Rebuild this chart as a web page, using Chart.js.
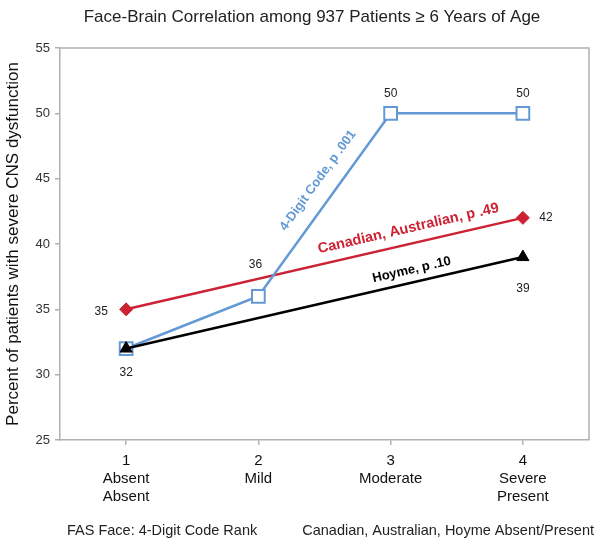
<!DOCTYPE html>
<html>
<head>
<meta charset="utf-8">
<script src="https://cdn.jsdelivr.net/npm/chart.js@4"></script>
<style>
  html, body { margin: 0; padding: 0; background: #fff; }
  #wrap { width: 600px; height: 548px; }
</style>
</head>
<body>
<div id="wrap"><canvas id="myChart"></canvas></div>
<script>
const xLabels = [["1", "Absent", "Absent"], ["2", "Mild"], ["3", "Moderate"], ["4", "Severe", "Present"]];
const digitCode = [32, 36, 50, 50];
const canadian = [35, null, null, 42];
const hoyme = [32, null, null, 39];
const yTicks = [25, 30, 35, 40, 45, 50, 55];

const titleText = "Face-Brain Correlation among 937 Patients \u2265 6 Years of Age";
const yTitle = "Percent of patients with severe CNS dysfunction";
const bottomLeft = "FAS Face: 4-Digit Code Rank";
const bottomRight = "Canadian, Australian, Hoyme Absent/Present";

const BLUE = "#6399d4";
const RED = "#cc2233";
const BLACK = "#000000";
const NUM_FONT = "12px 'Liberation Sans Narrow', 'Liberation Sans', Arial";

// data labels: [dataset index, point index, dx, dy]
const valueLabels = [
  [2, 0, -25, 2], [1, 0, 0, 24], [1, 1, -3, -32], [1, 2, 0, -20],
  [1, 3, 0, -20], [2, 3, 23, 0], [0, 3, 0, 32]
];
// line labels: [dataset, from point, to point, fraction, offset, text, color, size]
const lineLabels = [
  [1, 1, 2, 0.57, 13, "4-Digit Code, p .001", BLUE, 13],
  [2, 0, 3, 0.72, 8, "Canadian, Australian, p .49", RED, 14.5],
  [0, 0, 3, 0.727, 6, "Hoyme, p .10", BLACK, 13]
];

const textPlugin = {
  id: "texts",
  afterDatasetsDraw(chart) {
    const ctx = chart.ctx;
    const a = chart.chartArea;
    ctx.save();
    // frame on top/right
    ctx.strokeStyle = "#b0b0b0";
    ctx.lineWidth = 1.5;
    ctx.beginPath();
    ctx.moveTo(a.left, a.top);
    ctx.lineTo(a.right, a.top);
    ctx.lineTo(a.right, a.bottom);
    ctx.stroke();

    ctx.fillStyle = "#222";
    ctx.font = "17px 'Liberation Sans', Arial";
    ctx.textAlign = "center";
    ctx.textBaseline = "middle";
    ctx.fillText(titleText, 312, 17);

    ctx.font = "14.5px 'Liberation Sans', Arial";
    ctx.textAlign = "left";
    ctx.fillText(bottomLeft, 67, 531);
    ctx.textAlign = "right";
    ctx.fillText(bottomRight, 594, 531);

    ctx.font = NUM_FONT;
    ctx.textAlign = "center";
    valueLabels.forEach(([d, i, dx, dy]) => {
      const p = chart.getDatasetMeta(d).data[i];
      const v = chart.data.datasets[d].data[i];
      ctx.fillText(String(v), p.x + dx, p.y + dy);
    });

    lineLabels.forEach(([d, i0, i1, t, off, txt, col, size]) => {
      const pts = chart.getDatasetMeta(d).data;
      const p0 = pts[i0], p1 = pts[i1];
      const dx = p1.x - p0.x, dy = p1.y - p0.y;
      const len = Math.hypot(dx, dy);
      const ang = Math.atan2(dy, dx);
      const nx = dy / len, ny = -dx / len;
      const cx = p0.x + dx * t + nx * off;
      const cy = p0.y + dy * t + ny * off;
      ctx.save();
      ctx.translate(cx, cy);
      ctx.rotate(ang);
      ctx.font = "bold " + size + "px 'Liberation Sans', Arial";
      ctx.fillStyle = col;
      ctx.textAlign = "center";
      ctx.textBaseline = "bottom";
      ctx.fillText(txt, 0, 0);
      ctx.restore();
    });
    ctx.restore();
  }
};

new Chart("myChart", {
  type: "line",
  data: {
    labels: xLabels,
    datasets: [
      {
        label: "Hoyme",
        data: hoyme,
        spanGaps: true,
        borderColor: BLACK,
        backgroundColor: BLACK,
        borderWidth: 2.5,
        pointStyle: "triangle",
        pointRadius: 7,
        pointBorderWidth: 1
      },
      {
        label: "4-Digit Code",
        data: digitCode,
        borderColor: BLUE,
        backgroundColor: "#ffffff",
        borderWidth: 2.5,
        pointStyle: "rect",
        pointRadius: 9,
        pointBorderWidth: 2
      },
      {
        label: "Canadian, Australian",
        data: canadian,
        spanGaps: true,
        borderColor: RED,
        backgroundColor: RED,
        borderWidth: 2.5,
        pointStyle: "rectRot",
        pointRadius: 6.5,
        pointBorderWidth: 1
      }
    ]
  },
  options: {
    responsive: true,
    maintainAspectRatio: false,
    animation: false,
    layout: { padding: { top: 48, right: 11, left: 0, bottom: 0 } },
    plugins: {
      legend: { display: false },
      tooltip: { enabled: false },
      title: { display: false }
    },
    scales: {
      x: {
        offset: true,
        grid: { display: true, drawOnChartArea: false, tickLength: 5, color: "#b0b0b0", lineWidth: 1.5 },
        border: { color: "#b0b0b0", width: 1.5 },
        ticks: {
          padding: 7,
          maxRotation: 0,
          autoSkip: false,
          color: "#111",
          font: { family: "'Liberation Sans', Arial", size: 15, lineHeight: 1.2 }
        },
        afterFit(scale) { scale.height = 108; }
      },
      y: {
        min: 25,
        max: 55,
        afterBuildTicks(scale) { scale.ticks = yTicks.map(v => ({ value: v })); },
        grid: { display: true, drawOnChartArea: false, tickLength: 5, color: "#b0b0b0", lineWidth: 1.5 },
        border: { color: "#b0b0b0", width: 1.5 },
        ticks: {
          padding: 5,
          color: "#333",
          font: { family: "'Liberation Sans Narrow', 'Liberation Sans', Arial", size: 13 }
        },
        title: {
          display: true,
          text: yTitle,
          color: "#111",
          padding: { top: 3, bottom: 0 },
          font: { family: "'Liberation Sans', Arial", size: 17 }
        },
        afterFit(scale) { scale.width = 60; }
      }
    }
  },
  plugins: [textPlugin]
});
</script>
</body>
</html>
